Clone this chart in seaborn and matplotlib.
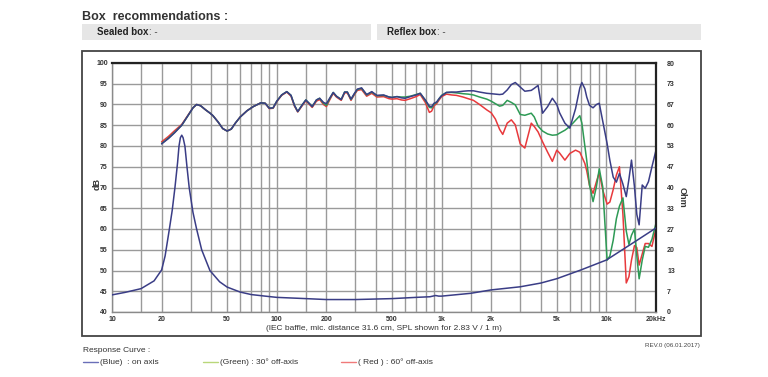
import numpy as np
import pandas as pd
import matplotlib
matplotlib.use("Agg")
import matplotlib.pyplot as plt
import seaborn as sns
from matplotlib.patches import Rectangle
from matplotlib.lines import Line2D
from matplotlib.ticker import NullFormatter

# SPL curves (Hz -> dB)
freq = [20, 22, 24, 26.5, 29, 31, 32.6, 34.5, 37, 39.4, 41, 44, 47, 50, 53, 56, 60, 66, 72, 80,
        85, 90, 95, 100, 107, 115, 122, 128, 134, 142, 150, 157, 164, 174, 182, 192, 200, 210, 220, 230,
        246, 258, 268, 282, 295, 308, 327, 351, 377, 405, 445, 480, 500, 536, 570, 600, 646, 700, 742, 796,
        843, 870, 900, 933, 970, 1000, 1070, 1150, 1230, 1350, 1450, 1560, 1700, 1880, 2000, 2120, 2250, 2350, 2500, 2650,
        2800, 3000, 3200, 3500, 3650, 3850, 4100, 4400, 4700, 5000, 5200, 5600, 6000, 6500, 6900, 7100, 7400, 7600, 7900, 8300,
        8700, 9050, 9500, 10100, 10500, 11000, 11500, 12000, 12600, 13200, 13700, 14200, 14800, 15300, 15800, 16500, 17200, 18000, 18900, 20000]

spl_blue = [80.5, 81.8, 83.2, 85.0, 87.4, 89.2, 90.0, 89.7, 88.7, 87.9, 87.3, 85.8, 84.2, 83.6, 84.1, 85.5, 87.0, 88.5, 89.5, 90.4,
            90.3, 89.1, 89.2, 90.8, 92.3, 93.1, 92.2, 89.8, 88.3, 89.8, 91.1, 90.3, 89.5, 91.1, 91.5, 90.5, 90.2, 91.6, 92.9, 92.0,
            91.2, 93.0, 93.0, 91.3, 92.6, 93.7, 94.0, 92.4, 93.1, 92.2, 92.3, 91.8, 91.7, 91.9, 91.6, 91.5, 91.9, 92.3, 92.7, 91.1,
            89.6, 89.5, 90.3, 90.6, 91.5, 92.1, 92.9, 93.0, 93.0, 93.2, 93.3, 93.3, 93.0, 92.7, 92.6, 92.5, 92.4, 92.5, 93.5, 94.8,
            95.3, 94.2, 93.2, 93.4, 93.9, 94.6, 87.9, 89.5, 91.5, 90.0, 88.0, 85.5, 84.3, 89.0, 94.0, 95.3, 93.8, 91.8, 89.8, 89.2,
            90.0, 90.3, 86.0, 80.6, 76.5, 72.5, 71.3, 73.4, 70.8, 67.8, 72.0, 76.6, 70.2, 63.5, 61.0, 70.6, 69.8, 71.4, 75.0, 79.0]

spl_green = [80.6, 81.9, 83.3, 85.0, 87.4, 89.2, 90.0, 89.7, 88.7, 87.9, 87.3, 85.8, 84.2, 83.6, 84.1, 85.5, 87.0, 88.5, 89.5, 90.4,
             90.3, 89.1, 89.2, 90.8, 92.3, 93.1, 92.2, 89.8, 88.3, 89.8, 91.1, 90.3, 89.5, 91.1, 91.5, 90.3, 89.8, 91.5, 92.9, 92.0,
             91.2, 93.0, 93.0, 91.2, 92.5, 93.6, 93.9, 92.3, 93.0, 92.1, 92.2, 91.8, 91.7, 91.9, 91.8, 91.8, 92.0, 92.4, 92.7, 91.0,
             89.3, 89.2, 90.1, 90.5, 91.5, 92.2, 92.9, 92.9, 92.8, 92.6, 92.5, 92.3, 91.8, 91.3, 90.8, 90.2, 89.6, 89.8, 91.0, 90.5,
             89.9, 87.6, 87.4, 87.9, 87.0, 84.8, 83.6, 82.9, 82.6, 82.7, 83.1, 83.8, 84.7, 86.2, 87.3, 85.5, 80.0, 76.5, 70.6, 66.6,
             70.2, 74.5, 70.2, 52.5, 53.5, 57.3, 62.5, 65.5, 67.5, 59.5, 56.3, 58.5, 60.0, 53.5, 48.0, 52.5, 55.8, 55.6, 57.5, 61.4]

spl_red = [81.0, 82.3, 83.7, 85.2, 87.5, 89.2, 90.0, 89.7, 88.7, 87.9, 87.3, 85.8, 84.2, 83.6, 84.1, 85.5, 87.0, 88.5, 89.5, 90.4,
           90.3, 89.0, 89.1, 90.7, 92.2, 93.0, 92.0, 89.6, 88.2, 89.6, 90.9, 90.1, 89.3, 90.8, 91.2, 90.0, 89.5, 91.2, 92.7, 91.8,
           91.0, 92.8, 92.8, 91.0, 92.3, 93.4, 93.6, 92.0, 92.7, 91.8, 91.9, 91.4, 91.3, 91.4, 91.1, 91.0, 91.4, 91.9, 92.4, 90.5,
           88.1, 88.4, 89.7, 90.2, 91.2, 91.9, 92.5, 92.3, 92.2, 91.8, 91.4, 91.0, 90.0, 88.7, 88.0, 86.5, 84.0, 82.8, 85.5, 86.3,
           85.1, 80.5, 79.5, 85.5, 84.7, 83.4, 81.0, 78.5, 76.3, 79.0, 78.3, 76.6, 78.2, 79.0, 78.5, 77.4, 75.8, 74.0, 70.5, 68.6,
           71.4, 73.6, 69.4, 66.0, 66.5, 69.5, 73.0, 75.0, 63.5, 47.0, 48.5, 52.5, 56.0, 55.5, 51.3, 54.0, 56.5, 56.5, 55.8, 60.2]

# impedance curve (Hz -> Ohm)
imp_freq = [10, 12, 15, 18, 20, 21, 22.3, 23.2, 24.1, 25, 25.5, 26, 26.5, 27, 27.7, 28.5, 29.4, 31, 32.6, 35,
            39.3, 45, 50, 60, 70, 85, 100, 150, 200, 300, 500, 700, 850, 920, 960, 1000, 1500, 2000, 3000, 4000,
            5000, 7000, 10000, 15000, 20000]
imp_ohm = [5.5, 6.3, 7.5, 10.0, 13.5, 18.0, 26.7, 32.7, 40.0, 48.0, 53.3, 56.0, 56.8, 56.0, 53.3, 46.7, 40.0, 32.0, 26.7, 20.0,
           13.3, 9.7, 8.0, 6.4, 5.6, 5.1, 4.7, 4.3, 4.0, 4.0, 4.3, 4.7, 4.9, 5.3, 5.1, 5.1, 6.0, 7.1, 8.1, 9.3,
           10.7, 13.5, 16.7, 22.7, 27.0]

x_ticks = [10, 20, 50, 100, 200, 500, 1000, 2000, 5000, 10000, 20000]
x_ticklabels = ["10", "20", "50", "100", "200", "500", "1k", "2k", "5k", "10k", "20kHz"]
grid_freqs = [10, 15, 20, 30, 40, 50, 60, 70, 80, 90, 100, 150, 200, 300, 400, 500, 600, 700, 800, 900,
              1000, 1500, 2000, 3000, 4000, 5000, 6000, 7000, 8000, 9000, 10000, 15000, 20000]
db_ticks = list(range(40, 101, 5))
ohm_ticklabels = ["0", "7", "13", "20", "27", "33", "40", "47", "53", "60", "67", "73", "80"]

NAVY = "#3a3d86"
GREEN = "#2e9a55"
RED = "#e8393c"

sns.set_style("white")
plt.rcParams['font.family'] = ['Liberation Sans', 'DejaVu Sans']

W, H = 768, 377
fig = plt.figure(figsize=(W / 100, H / 100), dpi=100)


def fx(px):
    return px / W


def fy(py):
    return 1 - py / H


# header
fig.text(fx(82), fy(17), "Box  recommendations :", fontsize=9, fontweight="bold", color="#333333", va="center")
fig.patches.append(Rectangle((fx(82), fy(40)), fx(371) - fx(82), fy(24) - fy(40), transform=fig.transFigure,
                             facecolor="#e6e6e6", edgecolor="none"))
fig.patches.append(Rectangle((fx(377), fy(40)), fx(701) - fx(377), fy(24) - fy(40), transform=fig.transFigure,
                             facecolor="#e6e6e6", edgecolor="none"))
fig.text(fx(97), fy(32), "Sealed box", fontsize=7, fontweight="bold", color="#222222", va="center")
fig.text(fx(149), fy(32), ": -", fontsize=7, color="#444444", va="center")
fig.text(fx(387), fy(32), "Reflex box", fontsize=7, fontweight="bold", color="#222222", va="center")
fig.text(fx(437), fy(32), ": -", fontsize=7, color="#444444", va="center")

# outer frame
fig.patches.append(Rectangle((fx(82), fy(336)), fx(701) - fx(82), fy(51) - fy(336), transform=fig.transFigure,
                             facecolor="none", edgecolor="#444444", linewidth=1.3))

ax = fig.add_axes([fx(112), fy(312), fx(656) - fx(112), fy(63) - fy(312)])
ax.set_xscale("log")

df = pd.concat([
    pd.DataFrame({"freq": freq, "spl": spl_red, "curve": "red"}),
    pd.DataFrame({"freq": freq, "spl": spl_green, "curve": "green"}),
    pd.DataFrame({"freq": freq, "spl": spl_blue, "curve": "blue"}),
])
sns.lineplot(data=df, x="freq", y="spl", hue="curve", hue_order=["red", "green", "blue"],
             palette={"red": RED, "green": GREEN, "blue": NAVY}, estimator=None, sort=False,
             linewidth=1.1, legend=False, ax=ax)

ax.set_xlim(10, 20000)
ax.set_ylim(40, 100)
ax.set_xticks(x_ticks)
ax.set_xticklabels(x_ticklabels)
ax.set_xticks(grid_freqs, minor=True)
ax.xaxis.set_minor_formatter(NullFormatter())
ax.set_yticks(db_ticks)
ax.grid(True, which="both", axis="x", color="#9a9a9a", linewidth=1.0)
ax.grid(True, which="major", axis="y", color="#9a9a9a", linewidth=1.0)
ax.tick_params(which="both", length=0, labelsize=5, pad=3, colors="#333333")
for lab in ax.get_xticklabels() + ax.get_yticklabels():
    lab.set_fontweight("bold")
ax.set_xlabel("")
ax.set_ylabel("")
for s in ["left", "bottom"]:
    ax.spines[s].set_color("#8a8a8a")
    ax.spines[s].set_linewidth(1.0)
for s in ["top", "right"]:
    ax.spines[s].set_color("#222222")
    ax.spines[s].set_linewidth(1.6)

ax2 = ax.twinx()
sns.lineplot(x=imp_freq, y=imp_ohm, color=NAVY, linewidth=1.1, estimator=None, sort=False, ax=ax2)
ax2.set_ylim(0, 80)
ax2.set_yticks(np.linspace(0, 80, 13))
ax2.set_yticklabels(ohm_ticklabels)
ax2.tick_params(length=0, labelsize=5, pad=8, colors="#333333")
for lab in ax2.get_yticklabels():
    lab.set_fontweight("bold")
ax2.set_ylabel("")
for s in ax2.spines.values():
    s.set_visible(False)
ax2.grid(False)

# axis titles
fig.text(fx(97), fy(184), "dB", rotation=90, fontsize=6.5, fontweight="bold", color="#333333",
         ha="center", va="center")
fig.text(fx(682), fy(197), "Ohm", rotation=270, fontsize=6.5, fontweight="bold", color="#333333",
         ha="center", va="center")

fig.text(fx(384), fy(328), "(IEC baffle, mic. distance 31.6 cm, SPL shown for 2.83 V / 1 m)",
         fontsize=6, color="#333333", ha="center", va="center")

# legend area
fig.text(fx(83), fy(350), "Response Curve :", fontsize=6, color="#333333", va="center")
fig.text(fx(700), fy(346), "REV.0 (06.01.2017)", fontsize=4.5, color="#444444", ha="right", va="center")
legend_items = [(83, "#6a6fb8", "(Blue)  : on axis"),
                (203, "#b9d77a", "(Green) : 30° off-axis"),
                (341, "#f07a7a", "( Red ) : 60° off-axis")]
for x0, col, txt in legend_items:
    fig.add_artist(Line2D([fx(x0), fx(x0 + 15)], [fy(362), fy(362)], color=col, linewidth=1.0,
                          transform=fig.transFigure))
    fig.text(fx(x0 + 17), fy(362), txt, fontsize=6, color="#333333", va="center")

fig.savefig("out.png", dpi=100)
